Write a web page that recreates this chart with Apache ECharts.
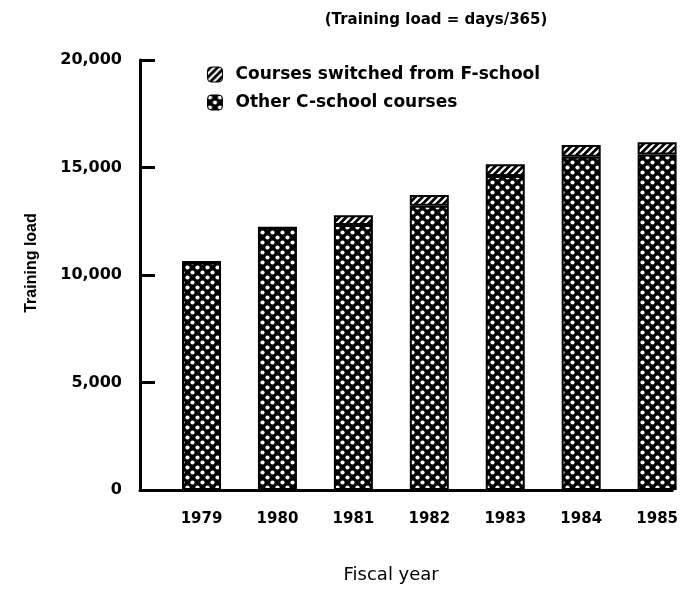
<!DOCTYPE html>
<html>
<head>
<meta charset="utf-8">
<script src="https://cdn.jsdelivr.net/npm/echarts@6/dist/echarts.min.js"></script>
<style>
  html, body { margin: 0; padding: 0; background: #fff; }
  #main { width: 681px; height: 589px; }
</style>
</head>
<body>
<div id="main"></div>
<script>
// fiscal years on the x axis
var years = [1979, 1980, 1981, 1982, 1983, 1984, 1985];
// training load (days/365)
var otherCSchool = [10600, 12200, 12330, 13220, 14600, 15500, 15600];
var switchedFromF = [0, 0, 450, 500, 550, 550, 580];

// crosshatch: black with white diamonds
function crossPattern() {
  var c = document.createElement('canvas');
  c.width = 10; c.height = 10;
  var g = c.getContext('2d');
  g.fillStyle = '#000';
  g.fillRect(0, 0, 10, 10);
  g.fillStyle = '#fff';
  g.beginPath(); g.arc(2.5, 2.5, 2.1, 0, Math.PI * 2); g.fill();
  g.beginPath(); g.arc(7.5, 7.5, 2.1, 0, Math.PI * 2); g.fill();
  return c;
}
// diagonal hatch: black with white "/" stripes
function hatchPattern() {
  var c = document.createElement('canvas');
  c.width = 7; c.height = 7;
  var g = c.getContext('2d');
  g.fillStyle = '#000';
  g.fillRect(0, 0, 7, 7);
  g.strokeStyle = '#fff';
  g.lineWidth = 2.2;
  g.beginPath();
  g.moveTo(-1, 8); g.lineTo(8, -1);
  g.moveTo(-1, 1); g.lineTo(1, -1);
  g.moveTo(6, 8); g.lineTo(8, 6);
  g.stroke();
  return c;
}

var font = '"DejaVu Sans", sans-serif';
var cross = { image: crossPattern(), repeat: 'repeat' };
var hatch = { image: hatchPattern(), repeat: 'repeat' };

var chart = echarts.init(document.getElementById('main'));
var option = {
  animation: false,
  backgroundColor: '#fff',
  title: {
    text: '(Training load = days/365)',
    left: 431,
    top: 8,
    textAlign: 'center',
    textStyle: { fontFamily: font, fontSize: 15, fontWeight: 'bold', color: '#000' }
  },
  legend: {
    orient: 'vertical',
    left: 207,
    top: 66,
    padding: 0,
    itemWidth: 15,
    itemHeight: 15,
    itemGap: 11,
    textStyle: { fontFamily: font, fontSize: 17, fontWeight: 'bold', color: '#000', padding: [0, 0, 0, 8] },
    data: [
      { name: 'Courses switched from F-school', itemStyle: { color: hatch, borderColor: '#000', borderWidth: 1 } },
      { name: 'Other C-school courses', itemStyle: { color: cross, borderColor: '#000', borderWidth: 1 } }
    ]
  },
  grid: { left: 140, right: 0, top: 60, bottom: 89 },
  xAxis: {
    type: 'value',
    min: 1978.19,
    max: 1985.2,
    splitLine: { show: false },
    axisLine: { lineStyle: { color: '#000', width: 3 } },
    axisTick: { show: false },
    axisLabel: {
      customValues: years,
      formatter: function (v) { return String(v); },
      margin: 22,
      fontFamily: font, fontSize: 15, fontWeight: 'bold', color: '#000'
    },
    name: 'Fiscal year',
    nameLocation: 'middle',
    nameGap: 76,
    nameTextStyle: { fontFamily: font, fontSize: 18, color: '#000', padding: [0, 30, 0, 0] }
  },
  yAxis: {
    type: 'value',
    min: 0,
    max: 20000,
    interval: 5000,
    splitLine: { show: false },
    axisLine: { show: true, lineStyle: { color: '#000', width: 3 } },
    axisTick: { show: true, inside: true, length: 15, lineStyle: { color: '#000', width: 3 } },
    axisLabel: {
      margin: 18,
      formatter: function (v) { return v.toLocaleString('en-US'); },
      fontFamily: font, fontSize: 16, fontWeight: 'bold', color: '#000'
    },
    name: 'Training load',
    nameLocation: 'middle',
    nameGap: 100,
    nameTextStyle: { fontFamily: '"Liberation Sans", sans-serif', fontSize: 16, fontWeight: 'bold', color: '#000', padding: [0, 0, 0, 24] }
  },
  series: [
    {
      name: 'Other C-school courses',
      type: 'bar',
      stack: 'load',
      barWidth: 39,
      encode: { x: 1, y: 0 },
      itemStyle: { color: cross, borderColor: '#000', borderWidth: 2 },
      data: years.map(function (y, i) { return [otherCSchool[i], y]; })
    },
    {
      name: 'Courses switched from F-school',
      type: 'bar',
      stack: 'load',
      barWidth: 39,
      encode: { x: 1, y: 0 },
      itemStyle: { color: hatch, borderColor: '#000', borderWidth: 2 },
      data: years.map(function (y, i) { return [switchedFromF[i], y]; })
    }
  ]
};
chart.setOption(option);
</script>
</body>
</html>
